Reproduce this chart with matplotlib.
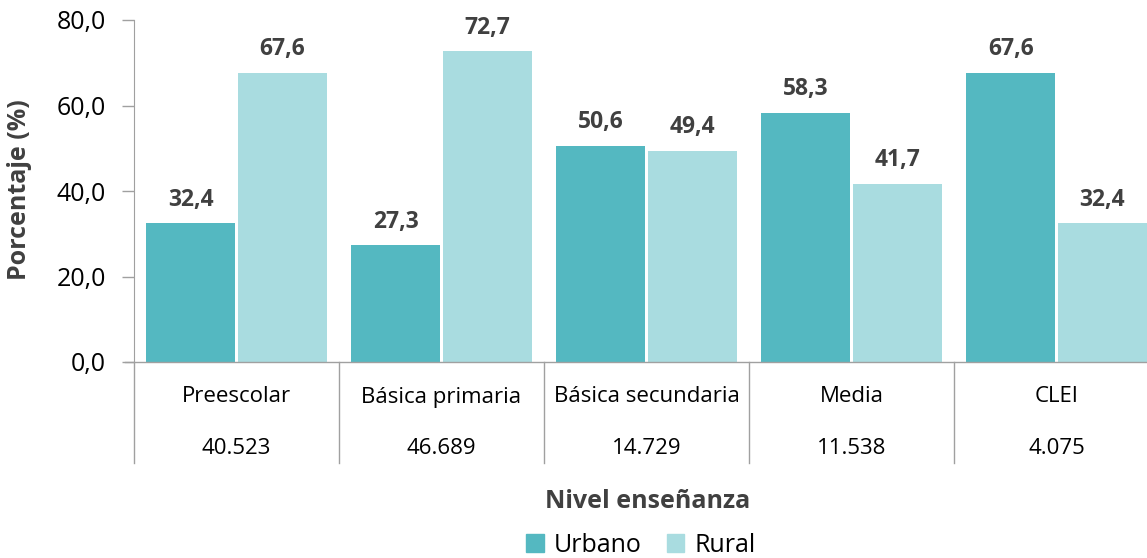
import matplotlib
matplotlib.use('Agg')
from matplotlib import pyplot
from matplotlib.patches import Patch
from matplotlib.ticker import FuncFormatter

# Data #
categories = ['Preescolar', 'Básica primaria', 'Básica secundaria', 'Media', 'CLEI']
totals     = ['40.523', '46.689', '14.729', '11.538', '4.075']
urbano     = [32.4, 27.3, 50.6, 58.3, 67.6]
rural      = [67.6, 72.7, 49.4, 41.7, 32.4]

# Style #
pyplot.rcParams['font.family'] = ['Open Sans', 'DejaVu Sans']
c_urb, c_rur = '#54B8C1', '#A9DCE0'
grey, dark   = '#A0A0A0', '#404040'
W, H = 1147, 558

fig = pyplot.figure(figsize=(W/100, H/100), dpi=100)
# Axes runs past the right edge of the picture, like the original #
ax = fig.add_axes([134/W, 1 - 362/H, 1025/W, 342/H])

width, gap = 0.432, 0.015
off = width/2 + gap/2
xs = range(len(categories))
ax.bar([x - off for x in xs], urbano, width, color=c_urb, label='Urbano')
ax.bar([x + off for x in xs], rural,  width, color=c_rur, label='Rural')

# Value labels #
for x, u, r in zip(xs, urbano, rural):
    for xx, v in ((x - off, u), (x + off, r)):
        ax.text(xx, v + 5.5, ('%.1f' % v).replace('.', ','), ha='center', va='center',
                fontsize=16.5, fontweight='bold', color=dark)

ax.set_xlim(-0.5, len(categories) - 0.5)
ax.set_ylim(0, 80)
ax.set_yticks([0, 20, 40, 60, 80])
ax.yaxis.set_major_formatter(FuncFormatter(lambda y, pos: ('%.1f' % y).replace('.', ',')))
ax.tick_params(axis='y', length=9, width=1, color=grey, labelsize=18, pad=11, labelcolor='black')
ax.set_xticks([])

# Frame #
for side in ('top', 'right', 'bottom'): ax.spines[side].set_visible(False)
ax.spines['left'].set_color(grey)

# Bottom line extending left to the tick length #
ax.plot([-9/1025, 1.2], [0, 0], color=grey, lw=1, transform=ax.transAxes, clip_on=False)

# Table below the bars #
xtrans = ax.get_xaxis_transform()
depth = -101/342
for k in range(len(categories) + 1):
    ax.plot([k - 0.5, k - 0.5], [0, depth], color=grey, lw=1, transform=xtrans, clip_on=False)
for x, cat, tot in zip(xs, categories, totals):
    ax.text(x, -35/342, cat, ha='center', va='center', fontsize=16, transform=xtrans)
    ax.text(x, -86/342, tot, ha='center', va='center', fontsize=16, transform=xtrans)

# Axis titles #
fig.text(20/W, 1 - 190/H, 'Porcentaje (%)', rotation=90, ha='center', va='center',
         fontsize=18, fontweight='bold', color=dark)
fig.text(648/W, 1 - 501/H, 'Nivel enseñanza', ha='center', va='center',
         fontsize=18, fontweight='bold', color=dark)

# Legend #
handles = [Patch(color=c_urb, label='Urbano'), Patch(color=c_rur, label='Rural')]
fig.legend(handles=handles, loc='center', bbox_to_anchor=(641/W, 1 - 545/H), ncol=2,
           frameon=False, fontsize=18, handlelength=0.7, handleheight=0.7,
           handletextpad=0.4, columnspacing=1.0, borderaxespad=0)

fig.savefig('out.png', dpi=100)
pyplot.close(fig)
